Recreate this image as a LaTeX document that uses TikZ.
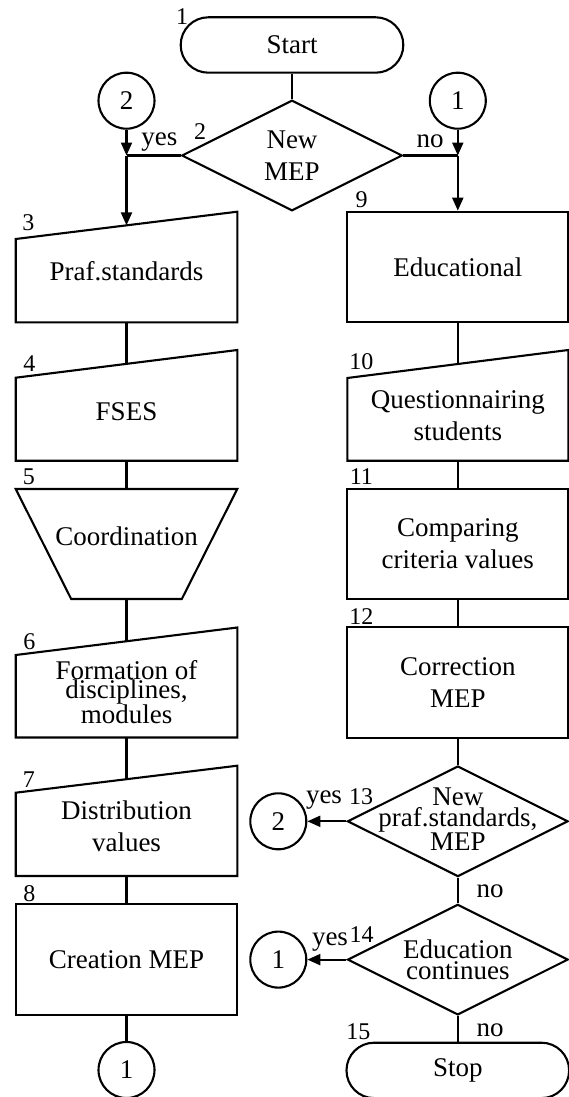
\documentclass[tikz,border=0pt]{standalone}
\usepackage{fontspec}
\setmainfont{Liberation Serif}
\usetikzlibrary{arrows.meta,shapes.geometric,calc}
\begin{document}
\begin{tikzpicture}[x=1pt,y=-1pt,line width=2.1pt,
  txt/.style={font=\fontsize{27}{32}\selectfont,align=center,inner sep=0pt},
  tight/.style={font=\fontsize{27}{19}\selectfont,align=center,inner sep=0pt},
  num/.style={font=\fontsize{24}{28}\selectfont,inner sep=0pt},
  term/.style={draw,rectangle,rounded corners=27.6pt,minimum width=222.6pt,minimum height=55.4pt,inner sep=0pt,font=\fontsize{27}{32}\selectfont},
  conn/.style={draw,circle,minimum size=56pt,inner sep=0pt,font=\fontsize{27}{32}\selectfont},
  dec/.style={draw,diamond,minimum width=220.6pt,minimum height=110.6pt,inner sep=0pt},
  proc/.style={draw,rectangle,minimum width=221pt,minimum height=110.6pt,inner sep=0pt,align=center,font=\fontsize{27}{32}\selectfont},
  arr/.style={-{Triangle[length=13pt,width=11pt]}}]
\useasboundingbox (0,0) rectangle (569,1097);

% ---------- top ----------
\node[term] (start) at (292,45) {Start};
\node[num] (n1) at (182,17) {1};
\node[dec] (d2) at (292,155.5) {};
\node[txt] (d2t) at (292,155.5) {New\\MEP};
\node[num] (n2) at (200,131.7) {2};
\node[conn] (c2a) at (126.5,100.7) {2};
\node[conn] (c1a) at (457.8,100.7) {1};
\coordinate (jl) at (126.5,155.5);
\coordinate (jr) at (457.8,155.5);
\node[txt] (yes2) at (159.3,141.7) {yes};
\node[txt] (no2) at (430,141) {no};

% ---------- left column ----------
% 3 manual input
\draw (15.7,239) -- (237.3,211.7) -- (237.3,322.3) -- (15.7,322.3) -- cycle;
\coordinate (b3t) at (126.5,225.35);
\coordinate (b3b) at (126.5,322.3);
\node[txt] (b3) at (126.5,271) {Praf.standards};
\node[num] (n3) at (28.3,222.7) {3};
% 4 manual input
\draw (15.7,377.7) -- (237.3,350) -- (237.3,460.7) -- (15.7,460.7) -- cycle;
\coordinate (b4t) at (126.5,363.85);
\coordinate (b4b) at (126.5,460.7);
\node[txt] (b4) at (126.5,411.7) {FSES};
\node[num] (n4) at (29.3,363.3) {4};
% 5 manual operation
\draw (15.7,489) -- (237.3,489) -- (181.8,599) -- (71.2,599) -- cycle;
\coordinate (b5t) at (126.5,489);
\coordinate (b5b) at (126.5,599);
\node[txt] (b5) at (126.5,536.7) {Coordination};
\node[num] (n5) at (29,476.7) {5};
% 6 manual input
\draw (15.7,655) -- (237.3,627.5) -- (237.3,737.5) -- (15.7,737.5) -- cycle;
\coordinate (b6t) at (126.5,641.25);
\coordinate (b6b) at (126.5,737.5);
\node[tight] (b6) at (126.5,692) {Formation of\\disciplines,\\modules};
\node[num] (n6) at (29.3,641.7) {6};
% 7 manual input
\draw (15.7,792.7) -- (237.3,765.7) -- (237.3,876) -- (15.7,876) -- cycle;
\coordinate (b7t) at (126.5,779.2);
\coordinate (b7b) at (126.5,876);
\node[txt] (b7) at (126.5,826) {Distribution\\values};
\node[num] (n7) at (29,779.3) {7};
% 8 process
\node[proc] (b8) at (126.5,959.3) {Creation MEP};
\node[num] (n8) at (29.3,893.3) {8};
\node[conn] (c1b) at (126.5,1070) {1};

% ---------- right column ----------
\node[proc] (b9) at (457.8,267) {Educational};
\node[num] (n9) at (361.7,200) {9};
% 10 manual input
\draw (347.3,378) -- (568.3,350) -- (568.3,460.7) -- (347.3,460.7) -- cycle;
\coordinate (b10t) at (457.8,364);
\coordinate (b10b) at (457.8,460.7);
\node[txt] (b10) at (457.8,416) {Questionnairing\\students};
\node[num] (n10) at (361.4,362) {10};
\node[proc] (b11) at (457.8,544) {Comparing\\criteria values};
\node[num] (n11) at (361.4,477) {11};
\node[proc] (b12) at (457.8,682.5) {Correction\\MEP};
\node[num] (n12) at (361.4,616.7) {12};
\node[dec] (d13) at (457.8,821.3) {};
\node[tight] (d13t) at (457.8,819.5) {New\\praf.standards,\\MEP};
\node[num] (n13) at (361,796.7) {13};
\node[txt] (yes13) at (324,800) {yes};
\node[conn] (c2b) at (278.3,821.3) {2};
\node[txt] (no13) at (490,891.7) {no};
\node[dec] (d14) at (457.8,959.6) {};
\node[font=\fontsize{27}{20.5}\selectfont,align=center,inner sep=0pt] (d14t) at (457.8,959.6) {Education\\continues};
\node[num] (n14) at (361.7,935) {14};
\node[txt] (yes14) at (330,941.7) {yes};
\node[conn] (c1c) at (278.3,959.6) {1};
\node[txt] (no14) at (490,1030) {no};
\node[num] (n15) at (358.3,1031.7) {15};
\node[term] (stop) at (457.8,1070.4) {Stop};

% ---------- connectors ----------
\draw (start.south) -- (d2.north);
\draw[arr] (c2a.south) -- (jl);
\draw (d2.west) -- (jl);
\draw[arr] (jl) -- (b3t);
\draw[arr] (c1a.south) -- (jr);
\draw (d2.east) -- (jr);
\draw[arr] (jr) -- (b9.north);
\draw (b3b) -- (b4t);
\draw (b4b) -- (b5t);
\draw (b5b) -- (b6t);
\draw (b6b) -- (b7t);
\draw (b7b) -- (b8.north);
\draw (b8.south) -- (c1b.north);
\draw (b9.south) -- (b10t);
\draw (b10b) -- (b11.north);
\draw (b11.south) -- (b12.north);
\draw (b12.south) -- (d13.north);
\draw[arr] (d13.west) -- (c2b.east);
\draw (d13.south) -- (d14.north);
\draw[arr] (d14.west) -- (c1c.east);
\draw (d14.south) -- (stop.north);
\end{tikzpicture}
\end{document}
